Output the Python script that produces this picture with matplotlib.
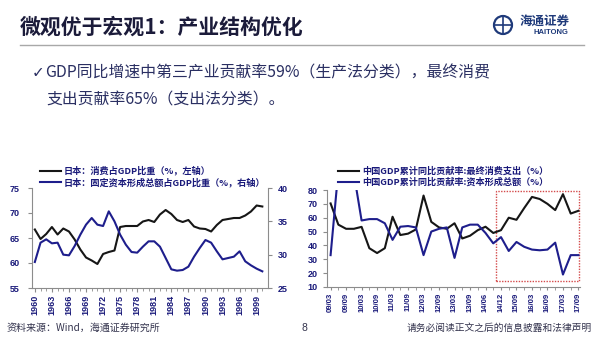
import matplotlib
matplotlib.use('Agg')
import matplotlib.pyplot as plt
from matplotlib.patches import Rectangle, Circle
from matplotlib.lines import Line2D
from matplotlib.transforms import IdentityTransform

plt.rcParams['font.family'] = ['Noto Sans CJK SC', 'DejaVu Sans']

# left chart: Japan, 1960-2000
years = list(range(1960, 2001))
jp_consumption = [66.7, 64.8, 65.8, 67.2, 65.7, 66.9, 66.3, 64.7, 62.7, 61.1,
                  60.5, 59.8, 61.8, 62.2, 62.5, 67.2, 67.4, 67.4, 67.4, 68.3,
                  68.6, 68.2, 69.7, 70.6, 69.8, 68.6, 68.2, 68.6, 67.3, 66.9,
                  66.8, 66.3, 67.6, 68.6, 68.8, 69.0, 69.0, 69.5, 70.3, 71.5,
                  71.3]
jp_gfcf = [28.9, 31.8, 32.3, 31.7, 31.8, 30.0, 29.9, 31.3, 33.0, 34.5,
           35.5, 34.5, 34.3, 36.5, 35.0, 33.0, 31.5, 30.4, 30.3, 31.2,
           32.0, 32.0, 31.2, 29.5, 27.8, 27.6, 27.7, 28.2, 29.7, 31.0,
           32.2, 31.8, 30.5, 29.3, 29.5, 29.7, 30.5, 29.0, 28.4, 27.9,
           27.5]
jp_labels = ['日本：消费占GDP比重（%，左轴）', '日本：固定资本形成总额占GDP比重（%，右轴）']

# right chart: China, cumulative contribution to GDP growth
cn_consumption = [70.3, 55.0, 52.0, 52.0, 53.4, 38.0, 34.5, 38.0, 60.7, 47.5,
                  48.5, 51.5, 76.0, 57.0, 53.0, 52.0, 56.0, 45.0, 47.0, 51.0,
                  53.5, 49.0, 51.0, 60.0, 58.5, 67.0, 75.0, 73.5, 70.0, 65.5,
                  77.0, 63.0, 65.0]
cn_capital = [33.0, 94.0, 108.0, 92.0, 58.0, 59.0, 59.0, 56.0, 44.0, 53.5,
              54.0, 53.0, 33.0, 50.0, 52.0, 53.0, 31.0, 53.0, 55.0, 55.0,
              49.0, 41.5, 46.0, 36.0, 42.5, 39.0, 37.0, 36.5, 37.0, 42.0,
              19.0, 33.0, 33.0]
cn_ticklabels = ['09/03', '09/09', '10/03', '10/09', '11/03', '11/09', '12/03', '12/09',
                 '13/03', '13/09', '14/06', '14/12', '15/09', '16/03', '16/09', '17/03', '17/09']
cn_labels = ['中国GDP累计同比贡献率:最终消费支出（%）', '中国GDP累计同比贡献率:资本形成总额（%）']

NAVY = '#1a1a7a'
BLACK = '#161616'
BLUE = '#1e1e8c'
GRAY = '#8c8c8c'
tickfont = dict(family='Liberation Sans', weight='bold', size=6.5)
legfont = dict(family=['Noto Sans CJK SC', 'DejaVu Sans'], weight='bold', size=6.6)

W, H = 600, 338
fig = plt.figure(figsize=(6, 3.38), dpi=100)

def fx(px):
    return px / W

def fy(py):
    return 1 - py / H

# header
fig.text(fx(20), fy(27), '微观优于宏观1：产业结构优化', fontsize=15, weight='bold',
         color='#1b1b3a', va='center', ha='left')
fig.add_artist(Line2D([fx(20), fx(584)], [fy(45), fy(45)], color='#a8a8a8', lw=1))

# logo
logo_c = '#1f3a7a'
fig.add_artist(Circle((503, H - 25), 9, transform=IdentityTransform(), fill=False, ec=logo_c, lw=1.6))
fig.add_artist(Line2D([495, 511], [H - 25, H - 25], transform=IdentityTransform(), color=logo_c, lw=1.2))
fig.add_artist(Line2D([503, 503], [H - 17, H - 33], transform=IdentityTransform(), color=logo_c, lw=1.2))
fig.text(fx(520), fy(21), '海通证券', fontsize=9, color=logo_c, weight='bold', va='center',
         style='italic')
fig.text(fx(533), fy(33), 'HAITONG', fontsize=5.5, color=logo_c, weight='bold', va='center',
         family='Liberation Sans')

# bullet text
txt_c = '#2a2f62'
fig.text(fx(32), fy(73), '✓', fontsize=11, color=txt_c, va='center', family='DejaVu Sans')
fig.text(fx(45), fy(73), 'GDP同比增速中第三产业贡献率59%（生产法分类），最终消费',
         fontsize=11.4, color=txt_c, va='center')
fig.text(fx(46), fy(100), '支出贡献率65%（支出法分类）。', fontsize=11.4, color=txt_c, va='center')

def style_axis(ax):
    for s in ax.spines.values():
        s.set_color(GRAY)
        s.set_linewidth(0.8)
    ax.spines['top'].set_visible(False)
    ax.tick_params(colors=GRAY, labelcolor=NAVY, length=3, width=0.8, direction='out')
    ax.set_facecolor('none')

# left chart
ax1 = fig.add_axes([fx(32), fy(288), fx(236), 100 / H])
l1, = ax1.plot(years, jp_consumption, color=BLACK, lw=1.5)
ax1.set_xlim(1959.5, 2001)
ax1.set_ylim(55, 75)
ax1.set_yticks(range(55, 76, 5))
ax1.set_xticks(years[::3])
ax1.set_xticklabels([str(y) for y in years[::3]], rotation=90, fontdict=tickfont)
ax1.set_xticks(years, minor=True)
ax1.tick_params(axis='x', which='minor', length=2, color=GRAY)
for t in ax1.get_yticklabels():
    t.set_fontproperties(tickfont)
style_axis(ax1)
ax1.spines['right'].set_visible(False)
ax1.tick_params(axis='y', pad=6)
ax1.tick_params(axis='x', pad=2)

ax2 = ax1.twinx()
l2, = ax2.plot(years, jp_gfcf, color=BLUE, lw=1.5)
ax2.set_ylim(25, 40)
ax2.set_yticks(range(25, 41, 5))
for t in ax2.get_yticklabels():
    t.set_fontproperties(tickfont)
style_axis(ax2)
ax2.spines['left'].set_visible(False)
ax2.spines['bottom'].set_visible(False)
ax2.tick_params(axis='y', pad=4)

ax1.legend([l1, l2], jp_labels, loc='upper left', bbox_to_anchor=(fx(40), fy(166)),
           bbox_transform=fig.transFigure, frameon=False, borderpad=0, borderaxespad=0,
           handlelength=2.3, handletextpad=0.3, labelspacing=0.15, prop=legfont, labelcolor=NAVY)

# right chart
idx = list(range(len(cn_consumption)))
ax3 = fig.add_axes([fx(327.5), fy(287), fx(252.5), 97 / H])
l3, = ax3.plot(idx, cn_consumption, color=BLACK, lw=1.5)
l4, = ax3.plot(idx, cn_capital, color=BLUE, lw=1.5)
ax3.set_xlim(-0.4, 32.2)
ax3.set_ylim(10, 80)
ax3.set_yticks(range(10, 81, 10))
ax3.set_xticks(idx[::2])
ax3.set_xticklabels(cn_ticklabels, rotation=90, fontdict=dict(tickfont, size=5.6))
ax3.set_xticks(idx[1::2], minor=True)
for t in ax3.get_yticklabels():
    t.set_fontproperties(tickfont)
style_axis(ax3)
ax3.spines['right'].set_visible(False)
ax3.tick_params(axis='x', which='both', length=2, pad=2, color=GRAY)
ax3.tick_params(axis='y', pad=4)
ax3.add_patch(Rectangle((21.3, 14.3), 32.05 - 21.3, 79.3 - 14.3, fill=False,
                        ec='#d44a4a', ls=(0, (1, 1)), lw=1.0, clip_on=False))
ax3.legend([l3, l4], cn_labels, loc='upper left', bbox_to_anchor=(fx(338), fy(167)),
           bbox_transform=fig.transFigure, frameon=False, borderpad=0, borderaxespad=0,
           handlelength=2.3, handletextpad=0.3, labelspacing=0.15, prop=legfont, labelcolor=NAVY)

# footer
foot_c = '#33334d'
fig.text(fx(7), fy(328), '资料来源：Wind，海通证券研究所', fontsize=7.2, color=foot_c, va='center')
fig.text(fx(304), fy(328), '8', fontsize=7.5, color=foot_c, va='center', ha='center',
         family='Liberation Sans')
fig.text(fx(592), fy(328), '请务必阅读正文之后的信息披露和法律声明', fontsize=7.0, color=foot_c,
         va='center', ha='right')

fig.savefig('out.png', dpi=100, facecolor='white')
